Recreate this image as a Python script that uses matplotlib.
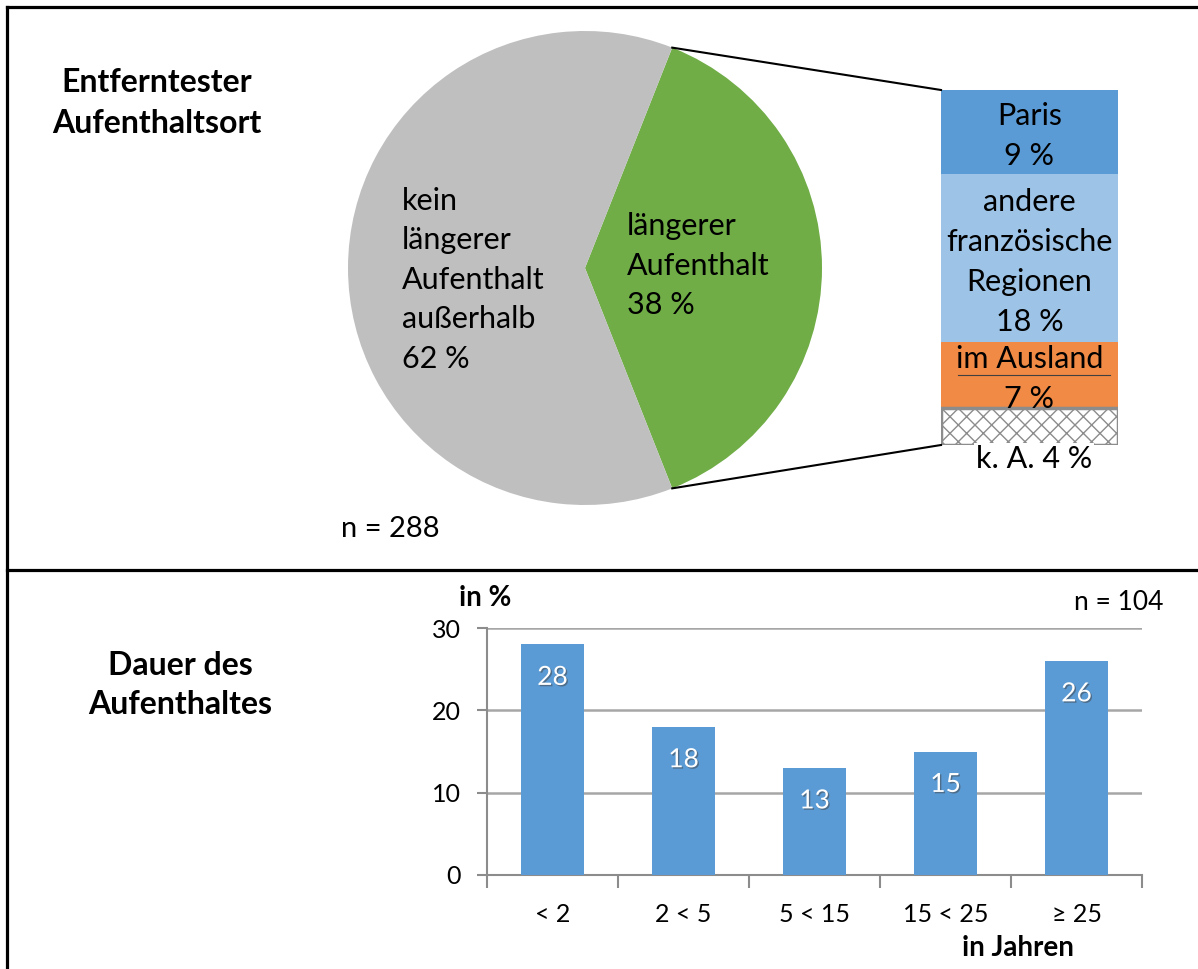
import matplotlib
matplotlib.use("Agg")
import numpy as np
import matplotlib.pyplot as plt
import matplotlib.patheffects as pe

plt.rcParams['font.family'] = ['Lato', 'DejaVu Sans']
plt.rcParams['hatch.color'] = '#8c8c8c'
plt.rcParams['hatch.linewidth'] = 1.0

# pie: longer stay outside vs. none
pie_labels = ["längerer\nAufenthalt\n38 %", "kein\nlängerer\nAufenthalt\naußerhalb\n62 %"]
pie_values = [38, 62]
pie_colors = ["#70AD47", "#BFBFBF"]

# breakdown of the 38 %
where_labels = ["Paris\n9 %", "andere\nfranzösische\nRegionen\n18 %", "im Ausland\n7 %", "k. A. 4 %"]
where_values = [9, 18, 7, 4]
where_colors = ["#5B9BD5", "#9DC3E6", "#F08A45", "white"]

# duration of stay
dur_cats = ["< 2", "2 < 5", "5 < 15", "15 < 25", "≥ 25"]
dur_values = [28, 18, 13, 15, 26]

W, H = 1198, 969
fig = plt.figure(figsize=(W / 100, H / 100), dpi=100)

def frac(x0, y0, x1, y1):
    # pixel box (top-left origin) -> figure fraction rect
    return [x0 / W, 1 - y1 / H, (x1 - x0) / W, (y1 - y0) / H]

# pie
cx, cy, r = 585, 268, 237
pax = fig.add_axes(frac(cx - r, cy - r, cx + r, cy + r))
start = -pie_values[0] / sum(pie_values) * 360 / 2
wedges, _ = pax.pie(pie_values, colors=pie_colors, startangle=start,
                    counterclock=True, radius=1)
pax.set_xlim(-1, 1)
pax.set_ylim(-1, 1)
pax.set_aspect('equal')
pax.axis('off')

# stacked column for the breakdown
bx0, by0, bx1, by1 = 941, 90, 1118, 445
sax = fig.add_axes(frac(bx0, by0, bx1, by1))
bottom = 0
mids = []
for i, v in enumerate(where_values):
    if i == 3:
        sax.bar(0, v, bottom=bottom, width=1, color='white', hatch='xx',
                edgecolor='#8c8c8c', linewidth=2.5)
    else:
        sax.bar(0, v, bottom=bottom, width=1, color=where_colors[i], linewidth=0)
    mids.append(bottom + v / 2)
    bottom += v
sax.set_xlim(-0.5, 0.5)
sax.set_ylim(sum(where_values), 0)
sax.axis('off')

# duration bar chart
bar_ax = fig.add_axes(frac(487, 628, 1142, 875))
xs = np.arange(len(dur_cats))
bars = bar_ax.bar(xs, dur_values, width=0.48, color='#5B9BD5', zorder=3)
for b, v in zip(bars, dur_values):
    bar_ax.text(b.get_x() + b.get_width() / 2, v - 4, str(v), ha='center',
                va='center', color='white', fontsize=19, zorder=4,
                path_effects=[pe.withSimplePatchShadow(offset=(1, -1),
                                                       shadow_rgbFace='#404040', alpha=0.5)])
bar_ax.set_xlim(-0.5, len(dur_cats) - 0.5)
bar_ax.set_ylim(0, 30)
bar_ax.set_yticks([0, 10, 20, 30])
bar_ax.yaxis.grid(True, color='#A6A6A6', lw=1.8, zorder=0)
bar_ax.set_axisbelow(True)
for s in ['top', 'right']:
    bar_ax.spines[s].set_visible(False)
for s in ['left', 'bottom']:
    bar_ax.spines[s].set_color('#8c8c8c')
    bar_ax.spines[s].set_linewidth(1.5)
bar_ax.set_xticks(xs)
bar_ax.set_xticklabels(dur_cats)
bar_ax.set_xticks(np.arange(-0.5, len(dur_cats), 1), minor=True)
bar_ax.tick_params(axis='x', which='major', length=0, pad=20, labelsize=18)
bar_ax.tick_params(axis='x', which='minor', length=9, width=1.5, color='#8c8c8c')
bar_ax.tick_params(axis='y', length=7, width=1.5, color='#8c8c8c', labelsize=18, pad=12)

# overlay on top for frame lines, connectors and free text
ov = fig.add_axes([0, 0, 1, 1])
ov.set_xlim(0, W)
ov.set_ylim(H, 0)
ov.axis('off')
ov.patch.set_alpha(0)

ov.plot([7, W], [7, 7], color='black', lw=2.3, solid_capstyle='projecting')
ov.plot([7, 7], [7, H], color='black', lw=2.3, solid_capstyle='projecting')
ov.plot([7, W], [570, 570], color='black', lw=2.3)

ov.text(157, 103, "Entferntester\nAufenthaltsort", ha='center', va='center',
        fontsize=23, fontweight='bold', linespacing=1.5)
ov.text(180, 685, "Dauer des\nAufenthaltes", ha='center', va='center',
        fontsize=23, fontweight='bold', linespacing=1.4)
ov.text(390, 529, "n = 288", ha='center', va='center', fontsize=21)

ov.text(627, 266, pie_labels[0], ha='left', va='center', fontsize=22, linespacing=1.5)
ov.text(402, 280, pie_labels[1], ha='left', va='center', fontsize=22, linespacing=1.5)

# column labels, placed at segment centres
to_px = lambda yv: by0 + (by1 - by0) * yv / sum(where_values)
for i in range(3):
    ov.text((bx0 + bx1) / 2, to_px(mids[i]) + 4, where_labels[i], ha='center', va='center',
            fontsize=22, linespacing=1.53)
ov.plot([958, 1110], [375, 375], color='#404040', lw=0.8)
ov.text(1034, 459, where_labels[3], ha='center', va='center', fontsize=22,
        bbox=dict(facecolor='white', edgecolor='none', pad=1))

# connector lines from pie edge to the column
ang = np.radians(pie_values[0] / sum(pie_values) * 360 / 2)
ex = cx + r * np.cos(ang)
ov.plot([ex, bx0], [cy - r * np.sin(ang), by0], color='black', lw=1.5)
ov.plot([ex, bx0], [cy + r * np.sin(ang), by1], color='black', lw=1.5)

ov.text(485, 598, "in %", ha='center', va='center', fontsize=20, fontweight='bold')
ov.text(1163, 603, "n = 104", ha='right', va='center', fontsize=19)
ov.text(1018, 948, "in Jahren", ha='center', va='center', fontsize=20, fontweight='bold')

fig.savefig("out.png", dpi=100)
